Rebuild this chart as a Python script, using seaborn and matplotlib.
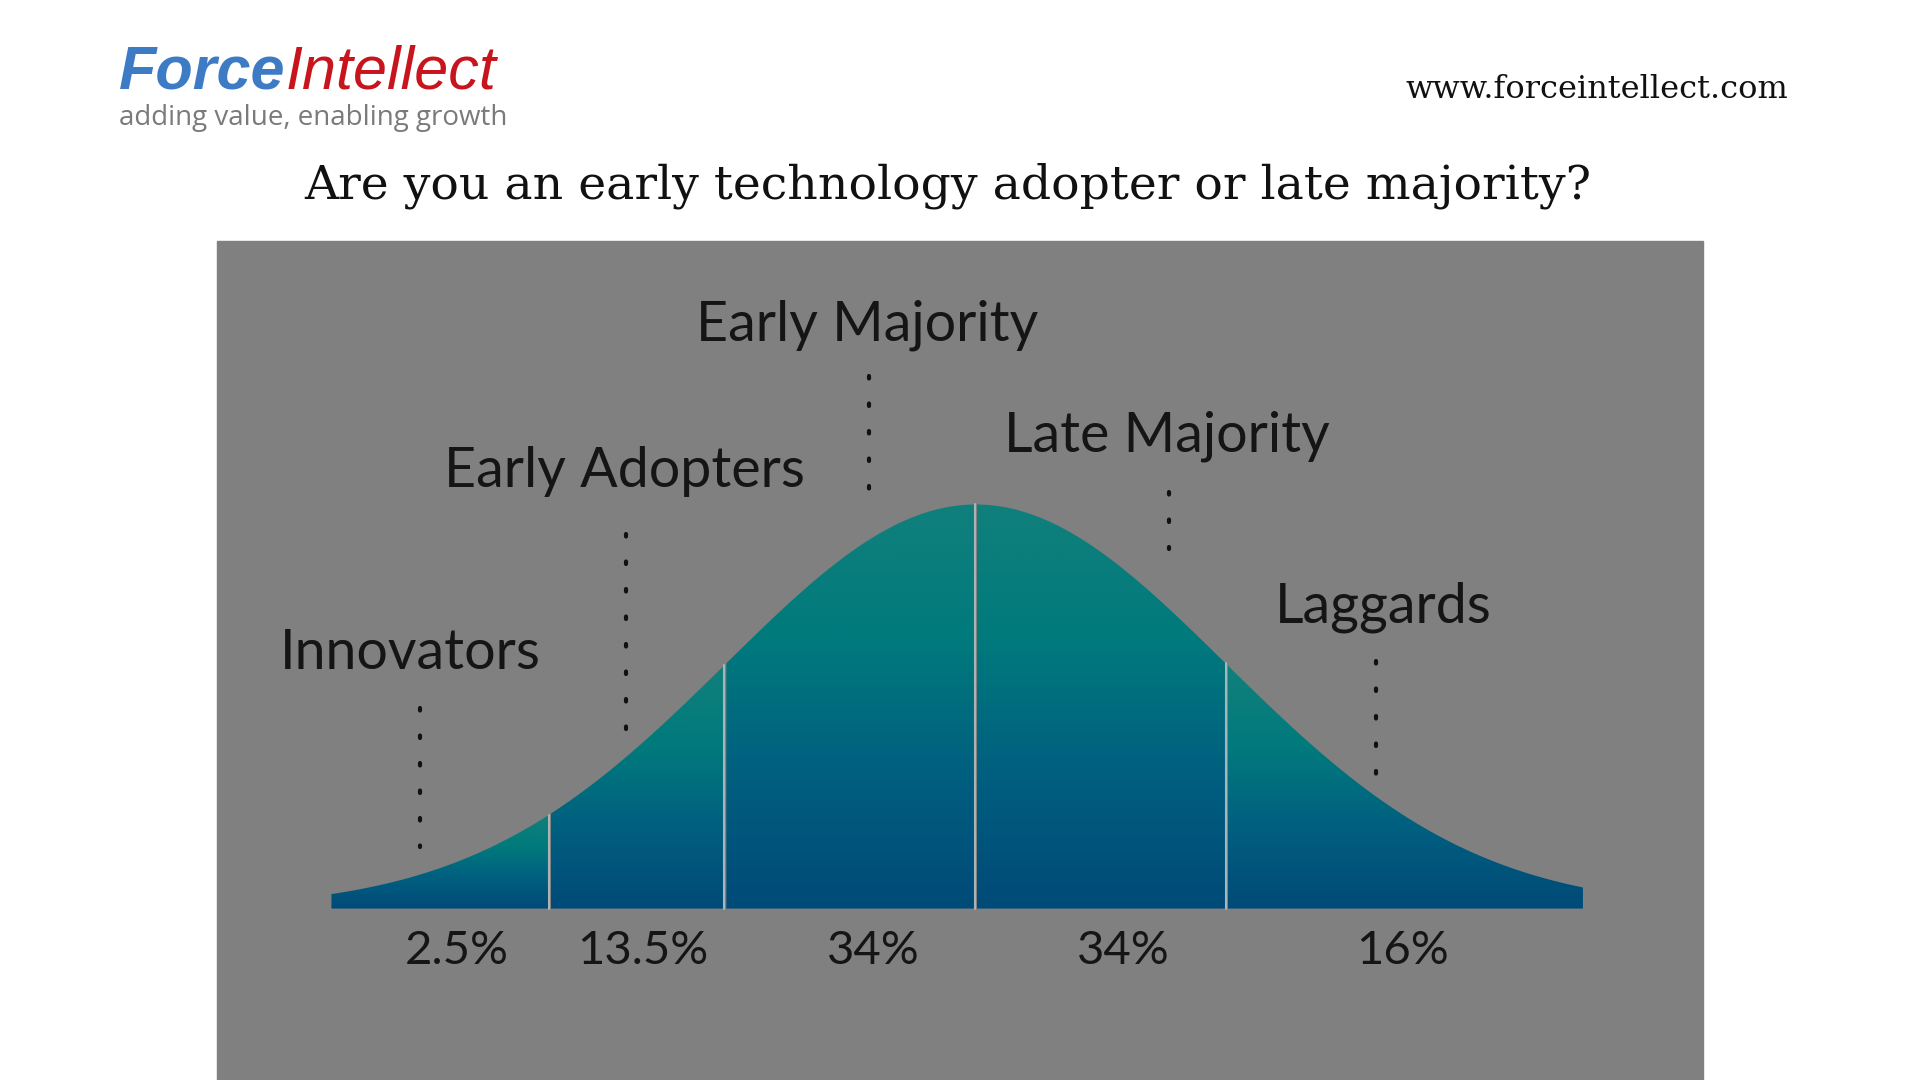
import numpy as np
import pandas as pd
import seaborn as sns
import matplotlib.pyplot as plt
from matplotlib.colors import LinearSegmentedColormap
from matplotlib.patches import Rectangle

# layout is worked in the reference's own pixel grid
W, H = 1568, 882

groups = ["Innovators", "Early Adopters", "Early Majority", "Late Majority", "Laggards"]
shares = ["2.5%", "13.5%", "34%", "34%", "16%"]
# segment edges in standard deviations from the mean
edges_sd = [-2.58, -1.71, -1.0, 0.0, 1.0, 2.43]
label_x = [335, 510, 708, 953, 1130]
label_y = [534, 385, 266, 356, 496]
dots_x = [343, 511, 710, 955, 1124]
dots_top = [578, 436, 307, 402, 540]
dots_bot = [692, 598, 400, 448, 634]
share_x = [373, 525, 713, 917, 1145]

mean_px, sd_px, peak_px, base_y = 797, 204, 330, 742

sns.set_style("white")
fig = plt.figure(figsize=(19.2, 10.8), dpi=100)
ax = fig.add_axes([0, 0, 1, 1])
ax.set_xlim(0, W)
ax.set_ylim(H, 0)
ax.axis("off")

ax.add_patch(Rectangle((177, 197), 1391 - 177, H - 197, color="#808080", zorder=0))

z = np.linspace(edges_sd[0], edges_sd[-1], 600)
curve = pd.DataFrame({"x": mean_px + z * sd_px,
                      "y": base_y - peak_px * np.exp(-z ** 2 / 2)})

cmap = LinearSegmentedColormap.from_list("tg", ["#11807c", "#007a7c", "#005f80", "#004a78"])
grad = np.linspace(0, 1, 256).reshape(-1, 1)
for a, b in zip(edges_sd[:-1], edges_sd[1:]):
    seg = curve[(z >= a - 1e-9) & (z <= b + 1e-9)]
    xs = np.concatenate([seg.x, [seg.x.iloc[-1], seg.x.iloc[0]]])
    ys = np.concatenate([seg.y, [742, 742]])
    poly = ax.fill(xs, ys, color="none", zorder=1)[0]
    top = seg.y.min()
    im = ax.imshow(grad, cmap=cmap, aspect="auto", zorder=1,
                   extent=[seg.x.min(), seg.x.max(), 742, top])
    im.set_clip_path(poly)
    if b < edges_sd[-1]:
        ax.plot([seg.x.iloc[-1]] * 2, [seg.y.iloc[-1], 742], color="#a8b4b8", lw=1.5, zorder=2)

ax.set_xlim(0, W)
ax.set_ylim(H, 0)

for g, lx, ly in zip(groups, label_x, label_y):
    ax.text(lx, ly, g, fontsize=40, family="Lato", color="#151515", ha="center", va="center")
for dx, t, b in zip(dots_x, dots_top, dots_bot):
    ax.plot([dx, dx], [t, b], color="#111111", lw=3, ls=(0, (0.6, 6)), dash_capstyle="round")
for s, sx in zip(shares, share_x):
    ax.text(sx, 777, s, fontsize=34, family="Lato", color="#151515", ha="center", va="center")

ax.text(774, 152, "Are you an early technology adopter or late majority?",
        fontsize=34, family="DejaVu Serif", ha="center", va="center", color="#111111")
ax.text(1460, 73, "www.forceintellect.com", fontsize=23, family="DejaVu Serif",
        ha="right", va="center", color="#111111")
t1 = ax.text(97, 60, "Force", fontsize=44, weight="bold", style="italic",
             family="Liberation Sans", color="#3d7cc4", ha="left", va="center")
fig.canvas.draw()
bb = t1.get_window_extent().transformed(ax.transData.inverted())
ax.text(bb.x1, 60, "Intellect", fontsize=44, style="italic", family="Liberation Sans",
        color="#c8141c", ha="left", va="center")
ax.text(97, 96, "adding value, enabling growth", fontsize=20, family="Open Sans",
        color="#7a7a7a", ha="left", va="center")

fig.savefig("out.png", dpi=100)
